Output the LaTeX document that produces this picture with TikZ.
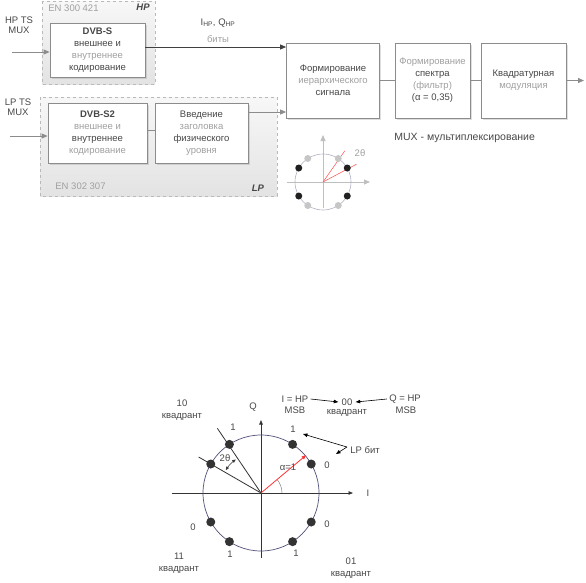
\documentclass[tikz,border=0pt]{standalone}
\usepackage{fontspec}
\setmainfont{Liberation Sans}
\usetikzlibrary{arrows.meta,shadows}

\definecolor{txtdark}{HTML}{474747}
\definecolor{txtlight}{HTML}{A0A0A0}
\definecolor{boxline}{HTML}{8C8C8C}
\definecolor{ringblue}{HTML}{50507A}

\newcommand{\pale}[1]{\textcolor{txtlight}{#1}}

\tikzset{
  blk/.style={draw=boxline, fill=white, align=center, inner sep=1pt, text=txtdark,
    font=\fontsize{9.5}{12}\selectfont,
    drop shadow={shadow xshift=1.5pt, shadow yshift=-1.5pt, opacity=.25}},
  grp/.style={draw=gray!55, dashed, top color=gray!6, bottom color=gray!22},
  lbl/.style={inner sep=0pt, text=txtdark, font=\fontsize{9.5}{10.5}\selectfont},
  ptr/.style={->, >={Triangle[length=4.5pt,width=3.5pt]}},
}

\begin{document}
\begin{tikzpicture}[x=1pt, y=-1pt, line width=0.8pt, >={Triangle[length=6pt,width=5pt]}]
    \useasboundingbox (0,0) rectangle (586,582);

    % block diagram
    \draw[grp] (42,1) rectangle (155,84);
    \draw[grp] (40,97) rectangle (277,196);
    \node[lbl, anchor=west, text=txtlight] (hpstd) at (48,8) {EN 300 421};
    \node[lbl] (hptag) at (143,7) {\bfseries\itshape HP};
    \node[lbl, anchor=west, text=txtlight] (lpstd) at (55,186) {EN 302 307};
    \node[lbl] (lptag) at (258,188) {\bfseries\itshape LP};

    \node[blk, minimum width=95pt, minimum height=54pt] (dvbs) at (97.5,50)
        {\textbf{DVB-S}\\внешнее и\\\pale{внутреннее}\\кодирование};
    \node[blk, minimum width=99pt, minimum height=60pt] (dvbstwo) at (97.5,133)
        {\textbf{DVB-S2}\\\pale{внешнее и}\\внутреннее\\\pale{кодирование}};
    \node[blk, minimum width=93pt, minimum height=60pt] (hdr) at (201.5,133)
        {Введение\\\pale{заголовка}\\физического\\\pale{уровня}};
    \node[blk, minimum width=93pt, minimum height=75pt] (hier) at (333,80.5)
        {Формирование\\\pale{иерархического}\\сигнала};
    \node[blk, minimum width=75pt, minimum height=75pt] (shaping) at (432.5,80.5)
        {\pale{Формирование}\\спектра\\\pale{(фильтр)}\\(α = 0,35)};
    \node[blk, minimum width=85pt, minimum height=75pt] (qam) at (523.5,80.5)
        {Квадратурная\\\pale{модуляция}};

    \node[lbl, align=center] (hpmux) at (19,25) {HP TS\\MUX};
    \node[lbl, align=center] (lpmux) at (18,107) {LP TS\\MUX};
    \node[lbl] (iq) at (218,23) {I\textsubscript{HP}, Q\textsubscript{HP}};
    \node[lbl, text=txtlight] (bits) at (218,39) {биты};
    \node[lbl, anchor=west, font=\fontsize{10.5}{12}\selectfont] (muxnote) at (394,138) {MUX - мультиплексирование};

    \coordinate (hpin) at (12,52);
    \coordinate (lpin) at (10,136);
    \coordinate (outp) at (584,80.5);

    \draw[->, boxline] (hpin) -- (hpin -| dvbs.west);
    \draw[->, boxline] (lpin) -- (lpin -| dvbstwo.west);
    \draw[->, gray!50!black] ([yshift=3pt]dvbs.east) -- ([yshift=3pt]dvbs.east -| hier.west);
    \draw[boxline] ([yshift=3pt]dvbstwo.east) -- ([yshift=3pt]hdr.west);
    \draw[->, boxline] ([yshift=21pt]hdr.east) -- ([yshift=21pt]hdr.east -| hier.west);
    \draw[boxline] (hier.east) -- (shaping.west);
    \draw[boxline] (shaping.east) -- (qam.west);
    \draw[->, boxline] (qam.east) -- (outp);

    % small constellation
    \coordinate (sc) at (323,182);
    \draw[->, gray!50] (287,182) -- (370,182);
    \draw[->, gray!50] (323,208) -- (323,135);
    \draw[ringblue!45, line width=0.6pt] (sc) circle[radius=28pt];
    \draw[red!70, line width=0.5pt] (sc) -- ++(55:38pt);
    \draw[red!70, line width=0.5pt] (sc) -- ++(28:38pt);
    \foreach \a in {57,123,237,303}
        \fill[gray!45] (sc) ++(\a:28pt) circle[radius=3.5pt];
    \foreach \a in {30,150,210,330}
        \fill[gray!25!black] (sc) ++(\a:28pt) circle[radius=3.5pt];
    \node[lbl, text=txtlight] (twoth) at (360,153) {2θ};

    % big constellation
    \coordinate (bc) at (261,493);
    \draw[ptr, gray!40!black] (172,493) -- (353,493);
    \draw[ptr, gray!40!black] (261,558) -- (261,420);
    \draw[ringblue, line width=0.7pt] (bc) circle[radius=58pt];
    \draw[gray!40!black] (bc) -- ++(124:78pt);
    \draw[gray!40!black] (bc) -- ++(150:72pt);
    \draw[gray!40!black, line width=0.5pt, <->, >={Triangle[length=3.5pt,width=3pt]}]
        ([shift={(127:42pt)}]bc) arc[start angle=127, end angle=147, radius=42pt];
    \draw[gray, line width=0.5pt] ([shift={(0:21pt)}]bc) arc[start angle=0, end angle=40, radius=21pt];
    \draw[ptr, red!80] (bc) -- ++(40:59pt);
    \foreach \a in {30,57,123,150,210,237,303,330}
        \fill[black!80] (bc) ++(\a:58pt) circle[radius=4.5pt];

    \node[lbl] (qlab) at (253,407) {Q};
    \node[lbl] (ilab) at (368,493) {I};
    \node[lbl] (alpha) at (288,467) {α=1};
    \node[lbl] (angle) at (225,458) {2θ};

    \node[lbl] (bur) at (293,429) {1};
    \node[lbl] (zur) at (327,465) {0};
    \node[lbl] (bul) at (233,427) {1};
    \node[lbl] (zll) at (193,527) {0};
    \node[lbl] (bll) at (230,554) {1};
    \node[lbl] (zlr) at (327,524) {0};
    \node[lbl] (blr) at (296,553) {1};

    \node[lbl, align=center, font=\fontsize{9.5}{12}\selectfont] (quadten) at (182,410) {10\\квадрант};
    \node[lbl, align=center, font=\fontsize{9.5}{12}\selectfont] (quadeleven) at (179,563) {11\\квадрант};
    \node[lbl, align=center, font=\fontsize{9.5}{12}\selectfont] (quadone) at (351,568) {01\\квадрант};
    \node[lbl] (quadzero) at (347,402) {00};
    \node[lbl] (quadzerotxt) at (347,413) {квадрант};

    \node[lbl] (ihp) at (295,399) {I = HP};
    \node[lbl] (imsb) at (295,410) {MSB};
    \node[lbl] (qhp) at (405,399) {Q = HP};
    \node[lbl] (qmsb) at (406,410) {MSB};
    \draw[ptr, line width=0.6pt] ([xshift=2pt]ihp.east) -- ([xshift=-3pt]quadzero.west);
    \draw[ptr, line width=0.6pt] ([xshift=-2pt]qhp.west) -- ([xshift=3pt]quadzero.east);

    \node[lbl] (lpbit) at (365,450) {LP бит};
    \coordinate (lptipa) at (303,434);
    \coordinate (lptipb) at (336,454);
    \draw[ptr, line width=0.6pt] ([xshift=-3pt,yshift=3pt]lpbit.west) -- (lptipa);
    \draw[ptr, line width=0.6pt] ([xshift=-3pt,yshift=3pt]lpbit.west) -- (lptipb);
\end{tikzpicture}
\end{document}
